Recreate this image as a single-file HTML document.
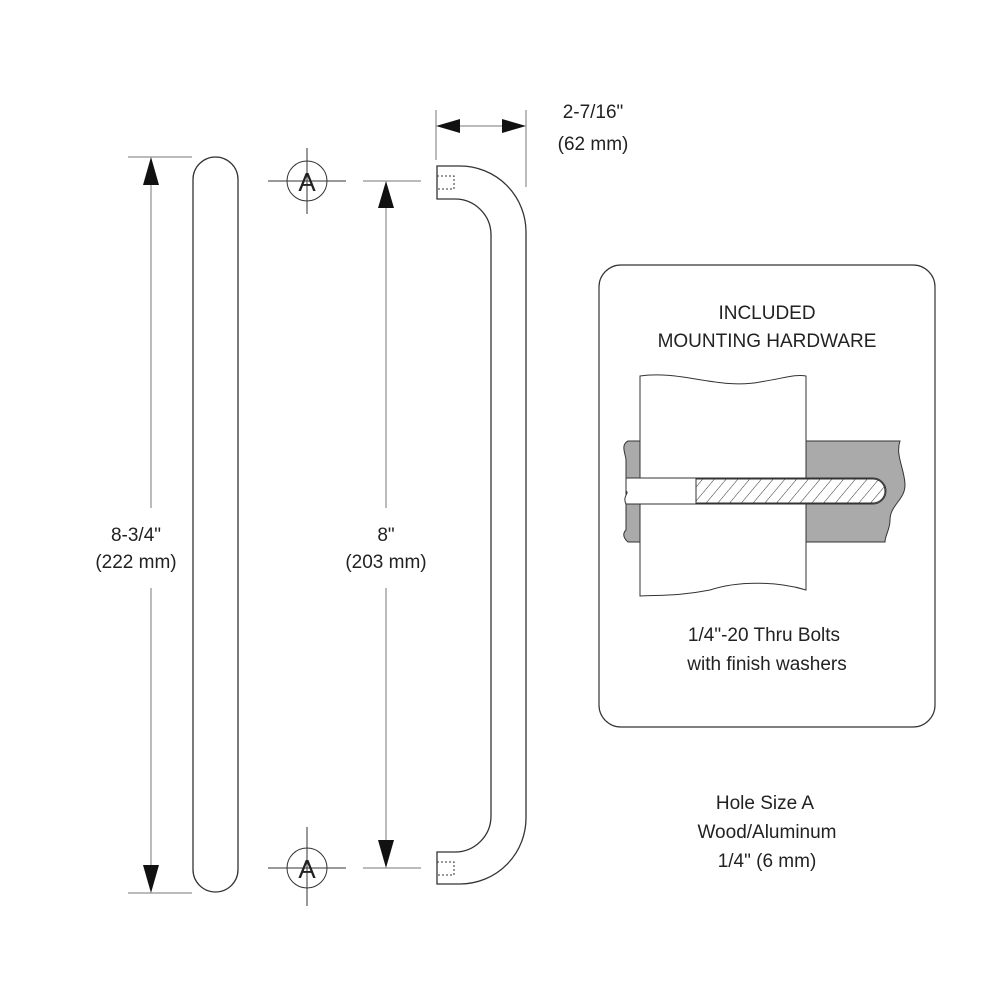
<!DOCTYPE html>
<html><head><style>body{margin:0;background:#fff}svg{display:block}text{font-family:"Liberation Sans",sans-serif;fill:#222}</style></head><body>
<svg width="1000" height="1000" viewBox="0 0 1000 1000" xmlns="http://www.w3.org/2000/svg">
<defs>
<pattern id="h" width="9" height="9" patternUnits="userSpaceOnUse" patternTransform="rotate(40)"><line x1="0" y1="0" x2="0" y2="9" stroke="#333" stroke-width="1"/></pattern>
</defs>
<g stroke="#333" fill="none" stroke-width="1">
<rect x="193" y="157" width="45" height="735" rx="22.5" stroke-width="1.3"/>
<line x1="128" y1="157" x2="192" y2="157" stroke="#777"/>
<line x1="128" y1="893" x2="192" y2="893" stroke="#777"/>
<line x1="151" y1="185" x2="151" y2="508" stroke="#777"/>
<line x1="151" y1="588" x2="151" y2="865" stroke="#777"/>
<circle cx="307" cy="181" r="20"/><circle cx="307" cy="868" r="20"/>
<line x1="268" y1="181" x2="346" y2="181"/><line x1="307" y1="148" x2="307" y2="214"/>
<line x1="268" y1="868" x2="346" y2="868"/><line x1="307" y1="827" x2="307" y2="906"/>
<line x1="363" y1="181" x2="421" y2="181" stroke="#777"/>
<line x1="363" y1="868" x2="421" y2="868" stroke="#777"/>
<line x1="386" y1="208" x2="386" y2="508" stroke="#777"/>
<line x1="386" y1="588" x2="386" y2="840" stroke="#777"/>
<line x1="436" y1="110" x2="436" y2="160" stroke="#777"/>
<line x1="526" y1="110" x2="526" y2="187" stroke="#777"/>
<line x1="460" y1="126" x2="502" y2="126" stroke="#777"/>
<path d="M437 166 H460 A66 66 0 0 1 526 232 V817 A66 66 0 0 1 460 884 H437 V852 H455 A36 36 0 0 0 491 816 V235 A36 36 0 0 0 455 199 H437 Z" stroke-width="1.3"/>
<rect x="437" y="176" width="17" height="13" stroke-dasharray="2 2"/>
<rect x="437" y="862" width="17" height="13" stroke-dasharray="2 2"/>
<rect x="599" y="265" width="336" height="462" rx="22" stroke-width="1.2"/>
</g>
<g fill="#111">
<polygon points="151,157 143,185 159,185"/><polygon points="151,893 143,865 159,865"/>
<polygon points="386,181 378,208 394,208"/><polygon points="386,868 378,840 394,840"/>
<polygon points="436,126 460,119 460,133"/><polygon points="526,126 502,119 502,133"/>
</g>
<g stroke="#333" stroke-width="1">
<path d="M806 441 H900 C895 455 905 470 905 485 C905 500 890 505 890 520 C890 530 885 535 885 542 H806 Z" fill="#aaa"/>
<path d="M640 441 H628 C620 445 626 455 626 460 L626 530 C620 536 628 542 628 542 H640 Z" fill="#aaa"/>
<path d="M640 376 C680 370 720 390 760 382 C785 378 795 374 806 376 V590 C780 582 740 580 710 590 C680 596 660 595 640 596 Z" fill="#fff"/>
<path d="M626 478 H873 A13 13 0 0 1 873 504 H626 C622 496 630 493 626 491 Z" fill="#fff"/>
<path d="M696 479 H873 A12 12 0 0 1 873 503 H696 Z" fill="url(#h)"/>
<line x1="696" y1="478" x2="696" y2="504"/>
</g>
<g font-size="19" text-anchor="middle">
<text x="136" y="541">8-3/4"</text><text x="136" y="568">(222 mm)</text>
<text x="386" y="541">8"</text><text x="386" y="568">(203 mm)</text>
<text x="593" y="118">2-7/16"</text><text x="593" y="150">(62 mm)</text>
<text x="767" y="319">INCLUDED</text><text x="767" y="347">MOUNTING HARDWARE</text>
<text x="764" y="641">1/4"-20 Thru Bolts</text><text x="767" y="670">with finish washers</text>
<text x="765" y="809">Hole Size A</text><text x="767" y="838">Wood/Aluminum</text><text x="767" y="867">1/4" (6 mm)</text>
<text x="307" y="191" font-size="26">A</text><text x="307" y="878" font-size="26">A</text>
</g>
</svg>
</body></html>
